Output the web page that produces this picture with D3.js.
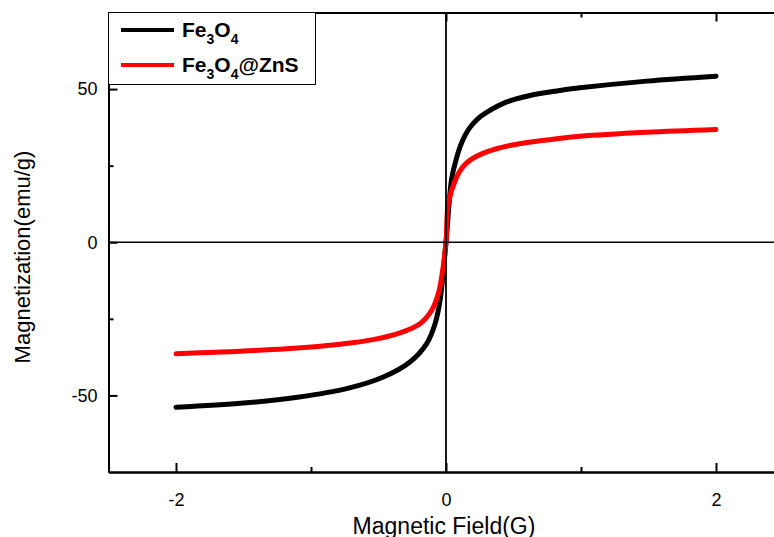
<!DOCTYPE html>
<html>
<head>
<meta charset="utf-8">
<script src="https://cdn.jsdelivr.net/npm/d3@7"></script>
<style>
  html, body { margin: 0; padding: 0; background: #fff; overflow: hidden; }
  svg { display: block; font-family: "Liberation Sans", Arial, sans-serif; }
</style>
</head>
<body>
<svg id="chart"></svg>
<script>
// values
const feField = [-2, -1.5, -1.1, -0.736, -0.464, -0.267, -0.143, -0.081, -0.044, 0, 0.042, 0.075, 0.104, 0.14, 0.178, 0.235, 0.301, 0.45, 0.622, 0.82, 0.993, 1.487, 2];
const feMag   = [-53.9, -52.5, -50.6, -47.8, -44.0, -39.1, -33.1, -26.6, -19.0, 0, 20.8, 27.0, 31.1, 34.8, 37.5, 40.3, 42.4, 45.8, 47.9, 49.4, 50.4, 52.6, 54.2];
const znsField = [-2, -1.18, -0.785, -0.54, -0.341, -0.193, -0.106, -0.057, -0.032, 0, 0.017, 0.079, 0.125, 0.178, 0.301, 0.474, 0.672, 0.82, 0.993, 1.487, 2];
const znsMag   = [-36.4, -34.8, -33.3, -31.8, -29.6, -26.6, -22.2, -16.8, -11.3, 0, 12.6, 21.3, 24.6, 26.8, 29.5, 31.6, 33.0, 33.8, 34.6, 35.9, 36.8];
const seriesNames = ["Fe3O4", "Fe3O4@ZnS"];
const seriesColors = ["#000000", "#ff0000"];
const xMajor = [-2, 0, 2], xMinor = [-1, 1];
const yMajor = [-50, 0, 50], yMinor = [-25, 25];

const W = 774, H = 537;
const m = { left: 108.5, top: 12.5, right: -9.5, bottom: 65 };

const svg = d3.select('#chart').attr('width', W).attr('height', H);

const x = d3.scaleLinear().domain([-2.5, 2.5]).range([m.left, W - m.right]);
const y = d3.scaleLinear().domain([-75, 75]).range([H - m.bottom, m.top]);

const series = [
    { name: seriesNames[0], color: seriesColors[0], pts: feField.map((f, i) => [f, feMag[i]]) },
    { name: seriesNames[1], color: seriesColors[1], pts: znsField.map((f, i) => [f, znsMag[i]]) }
];

const line = d3.line()
    .x(d => x(d[0]))
    .y(d => y(d[1]))
    .curve(d3.curveCatmullRom.alpha(0.5));

svg.selectAll('.curve')
    .data(series)
    .enter()
    .append('path')
    .attr('class', 'curve')
    .attr('fill', 'none')
    .attr('stroke', d => d.color)
    .attr('stroke-width', 5)
    .attr('stroke-linecap', 'round')
    .attr('stroke-linejoin', 'round')
    .attr('d', d => line(d.pts));

// zero lines
svg.append('line')
    .attr('x1', x(-2.5)).attr('x2', x(2.5))
    .attr('y1', y(0)).attr('y2', y(0))
    .attr('stroke', '#000').attr('stroke-width', 1.6);
svg.append('line')
    .attr('x1', x(0)).attr('x2', x(0))
    .attr('y1', y(75)).attr('y2', y(-75))
    .attr('stroke', '#000').attr('stroke-width', 1.8);

const fmt = d => String(d);

function styleAxis(g) {
    g.select('.domain').attr('stroke-width', 2);
    g.selectAll('.tick line').attr('stroke-width', 2);
    g.selectAll('.tick text').attr('font-size', 18).attr('fill', '#000')
        .attr('font-family', '"Liberation Sans", Arial, sans-serif');
}

// left
svg.append('g').attr('transform', `translate(${m.left},0)`)
    .call(d3.axisLeft(y).tickValues(yMajor).tickFormat(fmt).tickSize(-9).tickSizeOuter(0).tickPadding(11))
    .call(styleAxis);
svg.append('g').attr('transform', `translate(${m.left},0)`)
    .call(d3.axisLeft(y).tickValues(yMinor).tickSize(-5).tickSizeOuter(0).tickFormat(''))
    .call(styleAxis);
// bottom
svg.append('g').attr('transform', `translate(0,${H - m.bottom})`)
    .call(d3.axisBottom(x).tickValues(xMajor).tickFormat(fmt).tickSize(-9).tickSizeOuter(0).tickPadding(21))
    .call(styleAxis);
svg.append('g').attr('transform', `translate(0,${H - m.bottom})`)
    .call(d3.axisBottom(x).tickValues(xMinor).tickSize(-5).tickSizeOuter(0).tickFormat(''))
    .call(styleAxis);
// top
svg.append('g').attr('transform', `translate(0,${m.top})`)
    .call(d3.axisTop(x).tickValues(xMajor).tickSize(-9).tickSizeOuter(0).tickFormat(''))
    .call(styleAxis);
svg.append('g').attr('transform', `translate(0,${m.top})`)
    .call(d3.axisTop(x).tickValues(xMinor).tickSize(-5).tickSizeOuter(0).tickFormat(''))
    .call(styleAxis);
// right (mostly outside the window)
svg.append('g').attr('transform', `translate(${W - m.right},0)`)
    .call(d3.axisRight(y).tickValues(yMajor).tickSize(-9).tickSizeOuter(0).tickFormat(''))
    .call(styleAxis);

// axis titles
svg.append('text')
    .attr('x', x(0) - 2).attr('y', 534)
    .attr('text-anchor', 'middle')
    .attr('font-size', 23)
    .text('Magnetic Field(G)');
svg.append('text')
    .attr('transform', `translate(30,${257}) rotate(-90)`)
    .attr('text-anchor', 'middle')
    .attr('font-size', 22)
    .text('Magnetization(emu/g)');

// legend
const leg = svg.append('g');
leg.append('rect')
    .attr('x', 108.5).attr('y', 12.5)
    .attr('width', 207).attr('height', 72)
    .attr('fill', '#fff').attr('stroke', '#000').attr('stroke-width', 1);

series.forEach((s, i) => {
    const ly = 30 + i * 35;
    leg.append('line')
        .attr('x1', 121).attr('x2', 174)
        .attr('y1', ly).attr('y2', ly)
        .attr('stroke', s.color).attr('stroke-width', 4);
    const t = leg.append('text')
        .attr('x', 182).attr('y', ly + 7)
        .attr('font-size', 21).attr('font-weight', 'bold');
    t.append('tspan').text('Fe');
    t.append('tspan').attr('font-size', 14).attr('dy', 7).text('3');
    t.append('tspan').attr('dy', -7).text('O');
    t.append('tspan').attr('font-size', 14).attr('dy', 7).text('4');
    if (i === 1) t.append('tspan').attr('dy', -7).text('@ZnS');
});
</script>
</body>
</html>
